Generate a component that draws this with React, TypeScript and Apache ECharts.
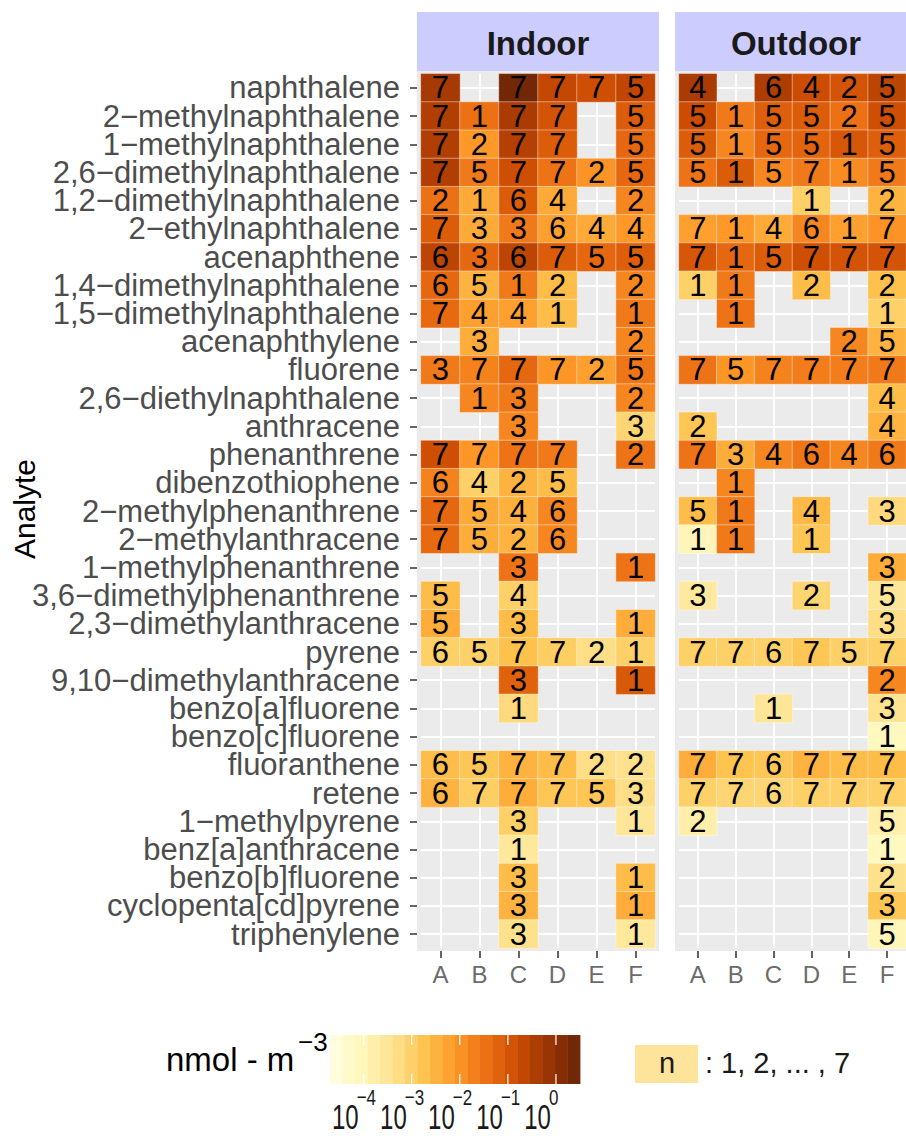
import React, { useEffect, useRef } from 'react';
import * as echarts from 'echarts';

const analytes = [
  'naphthalene', '2−methylnaphthalene', '1−methylnaphthalene', '2,6−dimethylnaphthalene',
  '1,2−dimethylnaphthalene', '2−ethylnaphthalene', 'acenaphthene', '1,4−dimethylnaphthalene',
  '1,5−dimethylnaphthalene', 'acenaphthylene', 'fluorene', '2,6−diethylnaphthalene',
  'anthracene', 'phenanthrene', 'dibenzothiophene', '2−methylphenanthrene',
  '2−methylanthracene', '1−methylphenanthrene', '3,6−dimethylphenanthrene', '2,3−dimethylanthracene',
  'pyrene', '9,10−dimethylanthracene', 'benzo[a]fluorene', 'benzo[c]fluorene',
  'fluoranthene', 'retene', '1−methylpyrene', 'benz[a]anthracene',
  'benzo[b]fluorene', 'cyclopenta[cd]pyrene', 'triphenylene',
];
const sites = ['A', 'B', 'C', 'D', 'E', 'F'];
const facets = ['Indoor', 'Outdoor'];

// n (number of detections), 0 = no tile
const indoorN = [
  [7, 0, 7, 7, 7, 5], [7, 1, 7, 7, 0, 5], [7, 2, 7, 7, 0, 5], [7, 5, 7, 7, 2, 5],
  [2, 1, 6, 4, 0, 2], [7, 3, 3, 6, 4, 4], [6, 3, 6, 7, 5, 5], [6, 5, 1, 2, 0, 2],
  [7, 4, 4, 1, 0, 1], [0, 3, 0, 0, 0, 2], [3, 7, 7, 7, 2, 5], [0, 1, 3, 0, 0, 2],
  [0, 0, 3, 0, 0, 3], [7, 7, 7, 7, 0, 2], [6, 4, 2, 5, 0, 0], [7, 5, 4, 6, 0, 0],
  [7, 5, 2, 6, 0, 0], [0, 0, 3, 0, 0, 1], [5, 0, 4, 0, 0, 0], [5, 0, 3, 0, 0, 1],
  [6, 5, 7, 7, 2, 1], [0, 0, 3, 0, 0, 1], [0, 0, 1, 0, 0, 0], [0, 0, 0, 0, 0, 0],
  [6, 5, 7, 7, 2, 2], [6, 7, 7, 7, 5, 3], [0, 0, 3, 0, 0, 1], [0, 0, 1, 0, 0, 0],
  [0, 0, 3, 0, 0, 1], [0, 0, 3, 0, 0, 1], [0, 0, 3, 0, 0, 1],
];
// log10 of concentration (nmol m^-3)
const indoorLog = [
  [-0.3, null, 0.35, -0.7, -0.85, -0.65], [-0.45, -1.45, -0.35, -0.95, null, -1.1],
  [-0.45, -2.1, -0.5, -1.1, null, -1.3], [-0.45, -1.6, -0.85, -1.5, -2.0, -1.3],
  [-1.45, -2.35, -1.1, -2.35, null, -1.8], [-1.1, -2.35, -1.6, -2.2, -2.35, -2.1],
  [-0.6, -1.3, -0.6, -1.1, -1.3, -1.15], [-1.3, -2.5, -1.6, -2.65, null, -1.8],
  [-1.35, -2.2, -2.2, -2.65, null, -1.6], [null, -2.4, null, null, null, -1.8],
  [-1.6, -1.75, -1.3, -2.05, -2.2, -1.55], [null, -1.8, -1.6, null, null, -1.8],
  [null, null, -1.8, null, null, -3.1], [-0.85, -2.05, -1.5, -1.6, null, -1.5],
  [-1.75, -3.0, -2.5, -2.65, null, null], [-1.3, -2.35, -2.45, -1.8, null, null],
  [-1.35, -2.4, -2.5, -1.8, null, null], [null, null, -1.5, null, null, -1.5],
  [-2.65, null, -3.0, null, null, null], [-2.4, null, -2.65, null, null, -2.4],
  [-3.0, -3.0, -2.7, -2.95, -3.3, -3.0], [null, null, -1.2, null, null, -1.05],
  [null, null, -3.2, null, null, null], [null, null, null, null, null, null],
  [-2.65, -2.8, -2.5, -2.65, -3.3, -3.35], [-2.5, -2.95, -2.4, -2.8, -2.8, -3.3],
  [null, null, -3.0, null, null, -3.5], [null, null, -3.55, null, null, null],
  [null, null, -2.65, null, null, -2.65], [null, null, -2.5, null, null, -2.4],
  [null, null, -3.35, null, null, -3.55],
];
const outdoorN = [
  [4, 0, 6, 4, 2, 5], [5, 1, 5, 5, 2, 5], [5, 1, 5, 5, 1, 5], [5, 1, 5, 7, 1, 5],
  [0, 0, 0, 1, 0, 2], [7, 1, 4, 6, 1, 7], [7, 1, 5, 7, 7, 7], [1, 1, 0, 2, 0, 2],
  [0, 1, 0, 0, 0, 1], [0, 0, 0, 0, 2, 5], [7, 5, 7, 7, 7, 7], [0, 0, 0, 0, 0, 4],
  [2, 0, 0, 0, 0, 4], [7, 3, 4, 6, 4, 6], [0, 1, 0, 0, 0, 0], [5, 1, 0, 4, 0, 3],
  [1, 1, 0, 1, 0, 0], [0, 0, 0, 0, 0, 3], [3, 0, 0, 2, 0, 5], [0, 0, 0, 0, 0, 3],
  [7, 7, 6, 7, 5, 7], [0, 0, 0, 0, 0, 2], [0, 0, 1, 0, 0, 3], [0, 0, 0, 0, 0, 1],
  [7, 7, 6, 7, 7, 7], [7, 7, 6, 7, 7, 7], [2, 0, 0, 0, 0, 5], [0, 0, 0, 0, 0, 1],
  [0, 0, 0, 0, 0, 2], [0, 0, 0, 0, 0, 3], [0, 0, 0, 0, 0, 5],
];
const outdoorLog = [
  [-0.35, null, -0.4, -0.8, -0.95, -0.6], [-0.8, -1.6, -1.15, -1.1, -1.45, -0.85],
  [-1.1, -1.8, -1.3, -1.25, -1.0, -1.15], [-1.5, -1.1, -1.8, -1.6, -1.9, -1.6],
  [null, null, null, -3.0, null, -2.5], [-2.2, -2.1, -2.35, -1.8, -2.2, -2.0],
  [-1.0, -1.3, -1.1, -0.85, -0.95, -0.95], [-3.0, -1.6, null, -2.65, null, -2.7],
  [null, -1.5, null, null, null, -3.0], [null, null, null, null, -1.8, -2.5],
  [-1.5, -2.05, -1.75, -1.65, -1.65, -1.6], [null, null, null, null, null, -2.65],
  [-2.8, null, null, null, null, -2.5], [-1.5, -2.4, -1.8, -1.55, -1.8, -1.6],
  [null, -1.8, null, null, null, null], [-2.65, -1.6, null, -2.6, null, -3.2],
  [-4.0, -1.6, null, -2.8, null, null], [null, null, null, null, null, -2.4],
  [-3.6, null, null, -3.1, null, -3.5], [null, null, null, null, null, -3.3],
  [-3.0, -3.0, -3.0, -2.8, -3.0, -3.0], [null, null, null, null, null, -1.8],
  [null, null, -3.5, null, null, -3.4], [null, null, null, null, null, -4.1],
  [-2.4, -2.75, -2.8, -2.5, -2.65, -2.65], [-3.0, -3.1, -3.1, -3.0, -3.0, -3.0],
  [-3.8, null, null, null, null, -3.8], [null, null, null, null, null, -4.1],
  [null, null, null, null, null, -3.35], [null, null, null, null, null, -2.8],
  [null, null, null, null, null, -4.0],
];

const colorTicks = [-4, -3, -2, -1, 0];
const legendTitle = 'nmol - m';
const legendTitleSup = '−3';
const nLegendKey = 'n';
const nLegendText = ': 1, 2, ... , 7';

const palette = ['#ffffe5', '#fff7bc', '#fee391', '#fec44f', '#fe9929', '#ec7014', '#cc4c02', '#993404', '#662506'];
const LOG_MIN = -4.7;
const LOG_MAX = 0.5;

const FONT = 'Liberation Sans, Arial, Helvetica, sans-serif';

function cells(nTab: number[][], logTab: (number | null)[][]) {
  const out: any[] = [];
  nTab.forEach((row, r) =>
    row.forEach((n, c) => {
      const v = logTab[r][c];
      if (n > 0 && v != null) out.push([c, r, v, n]);
    })
  );
  return out;
}

function txt(x: number, y: number, text: string, size: number, align: string, extra: any = {}) {
  const { fill, bold, ...rest } = extra;
  return {
    type: 'text', silent: true, x, y, ...rest,
    style: {
      text, fill: fill || '#1a1a1a', fontSize: size, fontFamily: FONT,
      fontWeight: bold ? 'bold' : 'normal', align, verticalAlign: 'middle',
    },
  };
}

export default function App() {
  const ref = useRef<HTMLDivElement>(null);

  useEffect(() => {
    const chart = echarts.init(ref.current!, null, { renderer: 'svg' });

    const PANEL_X = [417, 675];
    const PANEL_W = 242;
    const PANEL_Y = 71;
    const PANEL_H = 880;
    const PAD_X = PANEL_W / 6.2 * 0.1;
    const PAD_Y = PANEL_H / 31.2 * 0.1;

    const grids = PANEL_X.map((px) => ({
      left: px + PAD_X,
      top: PANEL_Y + PAD_Y,
      width: PANEL_W - 2 * PAD_X,
      height: PANEL_H - 2 * PAD_Y,
      containLabel: false,
    }));

    const xAxes = facets.map((_, i) => ({
      type: 'category',
      gridIndex: i,
      data: sites,
      position: 'bottom',
      offset: PAD_Y,
      axisLine: { show: false },
      axisTick: { show: true, length: 7, alignWithLabel: true, interval: 0, lineStyle: { color: '#333', width: 1.5 } },
      axisLabel: { color: '#6b6b6b', fontSize: 24, fontFamily: FONT, margin: 11, interval: 0 },
      splitLine: { show: true, alignWithLabel: true, interval: 0, lineStyle: { color: '#ffffff', width: 1.8 } },
    }));

    const yAxes = facets.map((_, i) => ({
      type: 'category',
      gridIndex: i,
      data: analytes,
      inverse: true,
      position: 'left',
      offset: PAD_X,
      axisLine: { show: false },
      axisTick: { show: i === 0, length: 7, alignWithLabel: true, interval: 0, lineStyle: { color: '#333', width: 1.5 } },
      axisLabel: {
        show: i === 0, color: '#4d4d4d', fontSize: 31, lineHeight: 27,
        fontFamily: FONT, margin: 17, interval: 0,
      },
      splitLine: { show: true, alignWithLabel: true, interval: 0, lineStyle: { color: '#ffffff', width: 1.8 } },
    }));

    const series = [
      { n: indoorN, l: indoorLog },
      { n: outdoorN, l: outdoorLog },
    ].map((f, i) => ({
      type: 'heatmap',
      name: facets[i],
      xAxisIndex: i,
      yAxisIndex: i,
      data: cells(f.n, f.l),
      label: {
        show: true,
        formatter: (p: any) => String(p.value[3]),
        color: '#000',
        fontSize: 31,
        lineHeight: 26,
        fontFamily: FONT,
      },
      itemStyle: { borderColor: 'rgba(255,255,255,0.4)', borderWidth: 1 },
      emphasis: { disabled: true },
    }));

    const graphics: any[] = [];
    PANEL_X.forEach((px, i) => {
      graphics.push({
        type: 'rect', z: -10, silent: true,
        shape: { x: px, y: PANEL_Y, width: PANEL_W, height: PANEL_H },
        style: { fill: '#EBEBEB' },
      });
      graphics.push({
        type: 'rect', z: -10, silent: true,
        shape: { x: px, y: 12, width: PANEL_W, height: PANEL_Y - 12 },
        style: { fill: '#CCCCFF' },
      });
      graphics.push(txt(px + PANEL_W / 2, 43, facets[i], 33, 'center', { bold: true, z: 10 }));
    });
    graphics.push(txt(24, 509, 'Analyte', 30, 'center', { rotation: Math.PI / 2, fill: '#000' }));

    // colour bar legend
    const BAR_X = 330, BAR_W = 250, BAR_Y = 1035, BAR_H = 49, NBIN = 20;
    for (let b = 0; b < NBIN; b++) {
      const t = (b + 0.5) / NBIN;
      graphics.push({
        type: 'rect', silent: true,
        shape: { x: BAR_X + (b * BAR_W) / NBIN, y: BAR_Y, width: BAR_W / NBIN + 0.4, height: BAR_H },
        style: { fill: echarts.color.lerp(t, palette) as string },
      });
    }
    colorTicks.forEach((tv) => {
      const px = BAR_X + ((tv - LOG_MIN) / (LOG_MAX - LOG_MIN)) * BAR_W;
      graphics.push({
        type: 'line', silent: true,
        shape: { x1: px, y1: BAR_Y, x2: px, y2: BAR_Y + 10 },
        style: { stroke: '#fff', lineWidth: 1.2 },
      });
      graphics.push({
        type: 'line', silent: true,
        shape: { x1: px, y1: BAR_Y + BAR_H - 10, x2: px, y2: BAR_Y + BAR_H },
        style: { stroke: '#fff', lineWidth: 1.2 },
      });
      graphics.push(txt(px - 5, 1117, '10', 24, 'right', { scaleY: 1.45 }));
      graphics.push(txt(px - 7, 1097, tv === 0 ? '0' : '−' + String(-tv), 17, 'left', { scaleY: 1.35 }));
    });
    graphics.push(txt(166, 1059, legendTitle, 33, 'left', { fill: '#000' }));
    graphics.push(txt(298, 1042, legendTitleSup, 26, 'left', { fill: '#000' }));
    graphics.push({
      type: 'rect', silent: true,
      shape: { x: 635, y: 1045, width: 63, height: 38 },
      style: { fill: '#FDE49A' },
    });
    graphics.push(txt(667, 1063, nLegendKey, 29, 'center'));
    graphics.push(txt(705, 1063, nLegendText, 29, 'left'));

    const option: any = {
      animation: false,
      backgroundColor: '#ffffff',
      grid: grids,
      xAxis: xAxes,
      yAxis: yAxes,
      visualMap: {
        type: 'continuous',
        show: false,
        min: LOG_MIN,
        max: LOG_MAX,
        dimension: 2,
        seriesIndex: [0, 1],
        inRange: { color: palette },
      },
      series,
      graphic: { elements: graphics },
    };

    chart.setOption(option);
    return () => chart.dispose();
  }, []);

  return <div ref={ref} style={{ position: 'fixed', left: 0, top: 0, width: 906, height: 1142 }} />;
}
